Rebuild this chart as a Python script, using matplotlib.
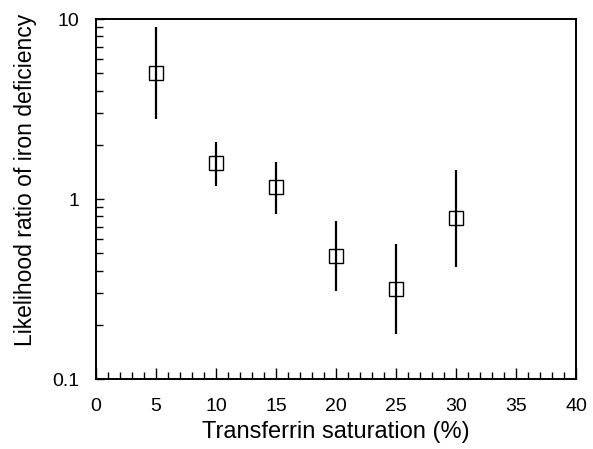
import numpy as np
import matplotlib.pyplot as plt
from matplotlib.ticker import MultipleLocator, LogLocator, NullFormatter, FixedLocator, FixedFormatter

# saturacja transferyny vs iloraz wiarygodnosci
saturation = [5, 10, 15, 20, 25, 30]
lr = [5.0, 1.58, 1.16, 0.48, 0.317, 0.78]
lr_upper = [9.0, 2.08, 1.60, 0.75, 0.565, 1.44]
lr_lower = [2.78, 1.18, 0.822, 0.308, 0.177, 0.417]

plt.rcParams['font.family'] = ['Liberation Sans', 'DejaVu Sans']

fig = plt.figure(figsize=(5.93, 4.49), dpi=100)
ax = fig.add_axes([96/593, 70/449, 480/593, 360/449])

yerr = [np.array(lr) - np.array(lr_lower), np.array(lr_upper) - np.array(lr)]
ax.errorbar(saturation, lr, yerr=yerr, fmt='none', ecolor='black', elinewidth=1.6, capsize=0)
ax.plot(saturation, lr, linestyle='none', marker='s', markersize=9.5,
        markerfacecolor='none', markeredgecolor='black', markeredgewidth=1.0)

ax.set_yscale('log')
ax.set_xlim(0, 40)
ax.set_ylim(0.1, 10)

ax.xaxis.set_major_locator(MultipleLocator(5))
ax.xaxis.set_minor_locator(MultipleLocator(1))
ax.yaxis.set_major_locator(FixedLocator([0.1, 1, 10]))
ax.yaxis.set_major_formatter(FixedFormatter(['0.1', '1', '10']))
ax.yaxis.set_minor_locator(LogLocator(base=10, subs=np.arange(2, 10)))
ax.yaxis.set_minor_formatter(NullFormatter())

ax.tick_params(which='both', direction='in', top=False, right=False, labelsize=14, width=1.0)
ax.tick_params(axis='x', which='major', length=8, pad=14)
ax.tick_params(axis='x', which='minor', length=5)
ax.tick_params(axis='y', which='major', length=6, pad=12)
ax.tick_params(axis='y', which='minor', length=5)

for s in ax.spines.values():
    s.set_linewidth(1.4)

ax.set_xlabel('Transferrin saturation (%)', fontsize=17, labelpad=4)
ax.set_ylabel('Likelihood ratio of iron deficiency', fontsize=16.5)
ax.yaxis.set_label_coords(-0.122, 0.553)

fig.savefig('out.png', dpi=100)
